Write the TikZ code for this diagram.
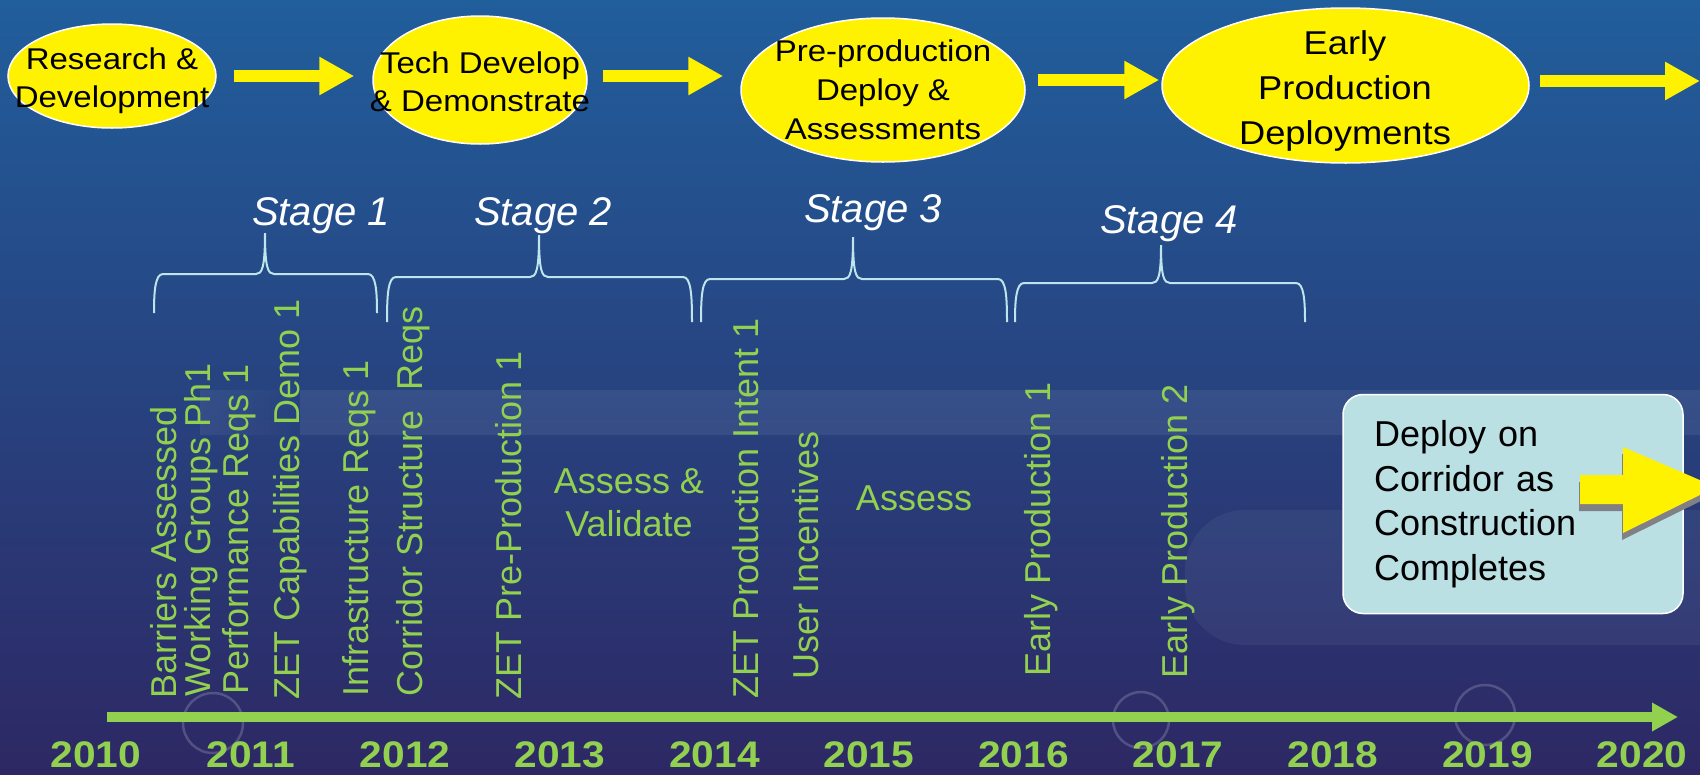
\documentclass[tikz,border=0pt]{standalone}
\usepackage{fontspec}
\setmainfont{Liberation Sans}
\newfontfamily\widefont[FakeStretch=1.1]{Liberation Sans}
\usetikzlibrary{arrows.meta,shapes.geometric,fadings}
\definecolor{bgtop}{RGB}{33,94,156}
\definecolor{bgmid}{RGB}{44,62,128}
\definecolor{bgbot}{RGB}{45,40,100}
\definecolor{zetgreen}{RGB}{146,208,80}
\definecolor{bracecol}{RGB}{190,228,236}
\definecolor{notefill}{RGB}{186,224,228}
\definecolor{shadowcol}{RGB}{128,128,134}
\newcommand{\stagebrace}[6]{\draw[bracket] (#1,#6) .. controls (#1,#4+18) and (#1+1,#4) .. (#1+9,#4) -- (#3-9,#4) .. controls (#3-3,#4) and (#3,#4-6) .. (#3,#5) .. controls (#3,#4-6) and (#3+3,#4) .. (#3+9,#4) -- (#2-9,#4) .. controls (#2-1,#4) and (#2,#4+18) .. (#2,#6);}

\begin{document}
\begin{tikzpicture}[x=1pt,y=-1pt,
  oval/.style={ellipse,draw=white,line width=1.5pt,fill=yellow,inner sep=0pt},
  ovaltext/.style={align=center,inner sep=0pt,font=\widefont\fontsize{30}{38}\selectfont},
  flowarrow/.style={draw=yellow,line width=12pt,-{Triangle[length=35pt,width=36pt]}},
  stagelabel/.style={anchor=base,text=white,inner sep=0pt,font=\fontsize{40}{40}\selectfont\itshape},
  bracket/.style={draw=bracecol,line width=2pt},
  milestone/.style={rotate=90,anchor=base west,text=zetgreen,inner sep=0pt,font=\fontsize{36}{36}\selectfont},
  phase/.style={text=zetgreen,align=center,inner sep=0pt,font=\fontsize{36}{43}\selectfont},
  year/.style={text=zetgreen,inner sep=0pt,font=\widefont\bfseries\fontsize{37}{37}\selectfont},
  timeline/.style={draw=zetgreen,line width=9.5pt,-{Triangle[length=26pt,width=27pt]}},
  notebox/.style={rounded corners=20pt,draw=white,line width=1.5pt,fill=notefill}]
\useasboundingbox (0,0) rectangle (1700,774);
\shade[top color=bgtop,middle color=bgmid,bottom color=bgbot] (0,0) rectangle (1700,774);
\fill[white,opacity=0.07,path fading=east] (200,390) rectangle (300,435);
\fill[white,opacity=0.07] (300,390) rectangle (1700,435);
\fill[white,opacity=0.05,rounded corners=60pt] (1185,510) rectangle (1760,645);
\draw[white,opacity=0.18,line width=2.5pt] (213,723) circle[radius=30pt];
\draw[white,opacity=0.18,line width=2.5pt] (1141,720) circle[radius=28pt];
\draw[white,opacity=0.18,line width=2.5pt] (1485,715) circle[radius=30pt];

\node[oval,minimum width=208pt,minimum height=104pt] (rd) at (112,76) {};
\node[oval,minimum width=214pt,minimum height=128pt] (tdd) at (480,80) {};
\node[oval,minimum width=284pt,minimum height=144pt] (ppd) at (883,90) {};
\node[oval,minimum width=367pt,minimum height=155pt] (epd) at (1345.5,85.5) {};
\coordinate (edge) at (1700,81);

\node[ovaltext] (rdt) at (112,81) {Research \&\\Development};
\node[ovaltext] (tddt) at (480,82) {Tech Develop\\\& Demonstrate};
\node[ovaltext,font=\widefont\fontsize{30}{39}\selectfont] (ppdt) at (883,90) {Pre-production\\Deploy \&\\Assessments};
\node[ovaltext,font=\widefont\fontsize{33}{45}\selectfont] (epdt) at (1345,91) {Early\\Production\\Deployments};

\draw[flowarrow,shorten <=17pt,shorten >=18pt] (rd.east) -- (tdd.west |- rd.east);
\draw[flowarrow,shorten <=15pt,shorten >=17pt] (tdd.east |- rd.east) -- (ppd.west |- rd.east);
\draw[flowarrow,shorten <=12pt,shorten >=2pt] (ppd.east |- tdd.east) -- (epd.west |- tdd.east);
\draw[flowarrow,shorten <=10pt] (epd.east |- edge) -- (edge);

\node[stagelabel] (s1) at (321,225) {Stage 1};
\node[stagelabel] (s2) at (543,225) {Stage 2};
\node[stagelabel] (s3) at (873,222) {Stage 3};
\node[stagelabel] (s4) at (1169,233) {Stage 4};

\stagebrace{154}{377}{265}{274}{233}{313}
\stagebrace{387}{692}{539}{277}{235}{322}
\stagebrace{701}{1007}{853}{279}{237}{322}
\stagebrace{1015}{1305}{1161}{283}{245}{322}

\node[milestone] (barriers) at (176,699) {Barriers Assessed};
\node[milestone] (wgroups) at (210,697) {Working Groups Ph1};
\node[milestone] (perfreq) at (248,695) {Performance Reqs 1};
\node[milestone] (zetcap) at (299,700) {ZET Capabilities Demo 1};
\node[milestone] (infra) at (368,697) {Infrastructure Reqs 1};
\node[milestone] (corridor) at (422,697) {Corridor Structure\ \ Reqs};
\node[milestone] (zetpre) at (521,700) {ZET Pre-Production 1};
\node[phase] (assessval) at (629,503) {Assess \&\\Validate};
\node[milestone] (zetprod) at (758,699) {ZET Production Intent 1};
\node[milestone] (incent) at (818,680) {User Incentives};
\node[phase,anchor=base] (assess) at (914,510) {Assess};
\node[milestone] (early1) at (1050,677) {Early Production 1};
\node[milestone] (early2) at (1187,679) {Early Production 2};

\node[notebox,minimum width=340pt,minimum height=219pt,text width=278pt,align=left,inner xsep=31pt,font=\fontsize{36}{44.5}\selectfont] (deploy) at (1513,504) {Deploy on\\Corridor as\\Construction\\Completes};
\fill[shadowcol,shift={(-1,7)}] (1580,475) -- (1623,475) -- (1623,447) -- (1716,487) -- (1623,533) -- (1623,504) -- (1580,504) -- cycle;
\fill[yellow] (1580,475) -- (1623,475) -- (1623,447) -- (1716,487) -- (1623,533) -- (1623,504) -- (1580,504) -- cycle;

\coordinate (tl0) at (107,717);
\coordinate (tl1) at (1678,717);
\draw[timeline] (tl0) -- (tl1);

\node[year] (y2010) at (96,755) {2010};
\node[year] (y2011) [right of=y2010,node distance=154.6pt] {2011};
\node[year] (y2012) [right of=y2011,node distance=154.6pt] {2012};
\node[year] (y2013) [right of=y2012,node distance=154.6pt] {2013};
\node[year] (y2014) [right of=y2013,node distance=154.6pt] {2014};
\node[year] (y2015) [right of=y2014,node distance=154.6pt] {2015};
\node[year] (y2016) [right of=y2015,node distance=154.6pt] {2016};
\node[year] (y2017) [right of=y2016,node distance=154.6pt] {2017};
\node[year] (y2018) [right of=y2017,node distance=154.6pt] {2018};
\node[year] (y2019) [right of=y2018,node distance=154.6pt] {2019};
\node[year] (y2020) [right of=y2019,node distance=154.6pt] {2020};
\end{tikzpicture}
\end{document}
